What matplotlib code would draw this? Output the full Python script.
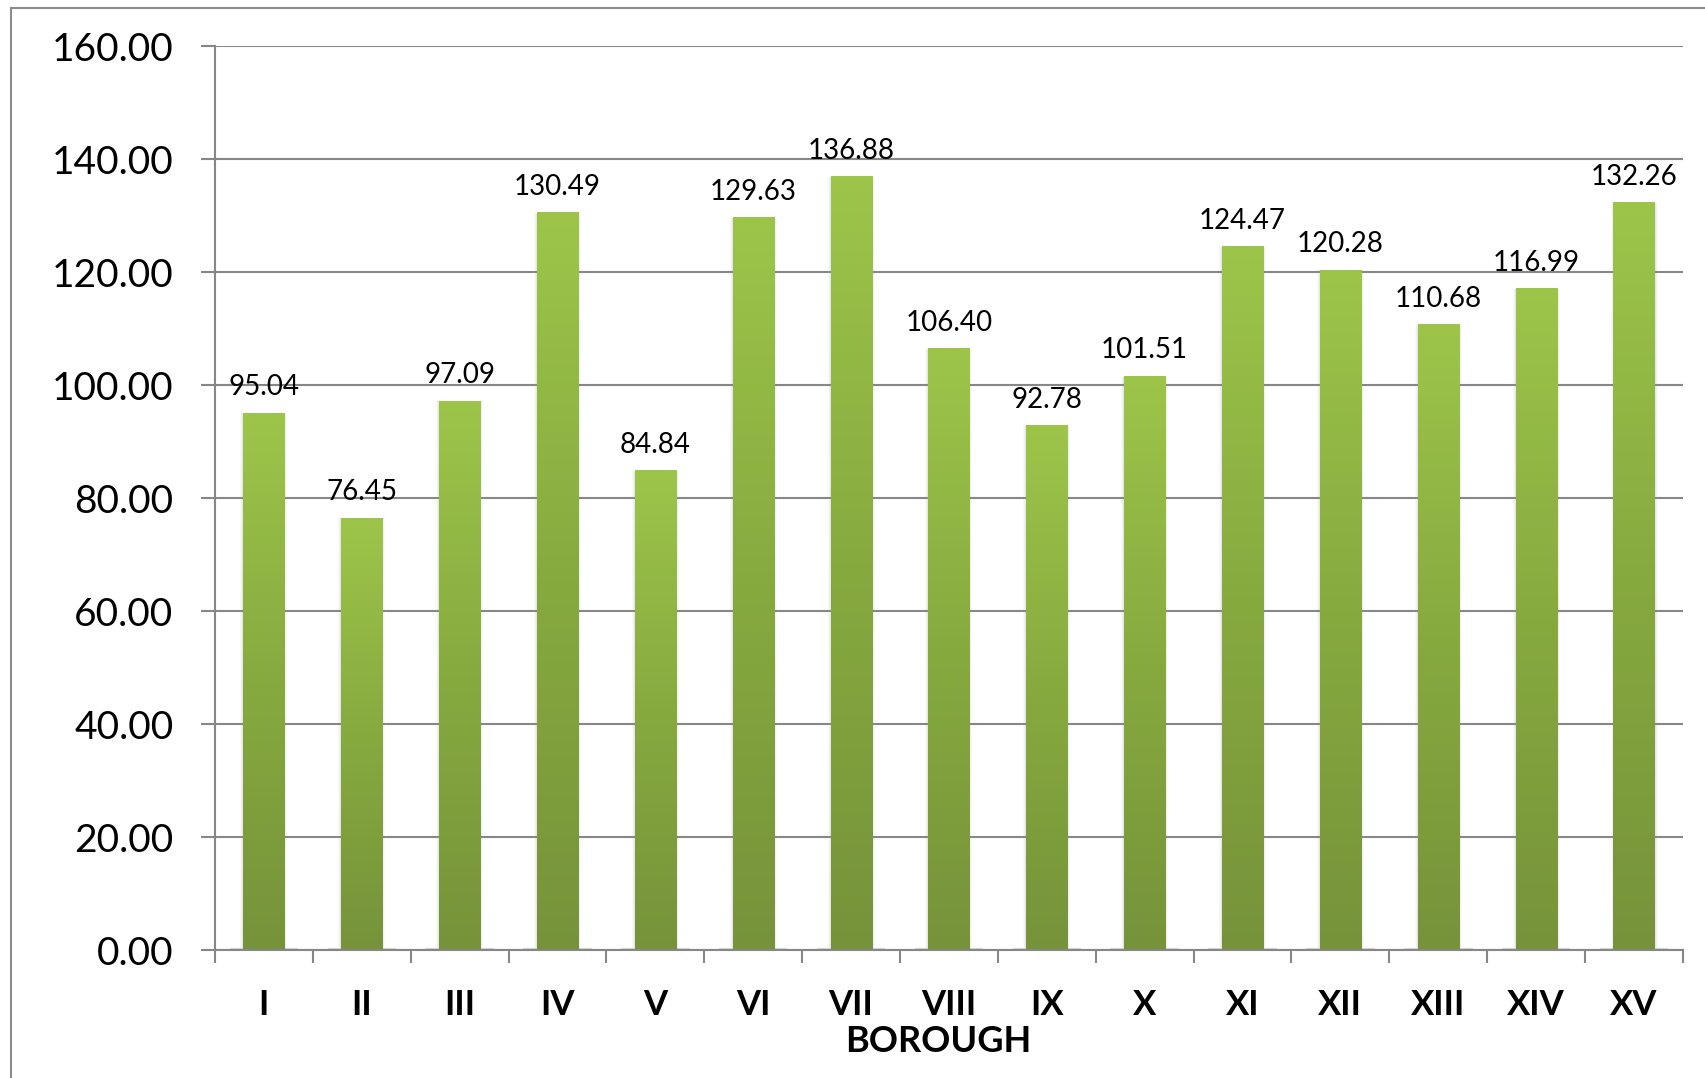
import numpy as np
import matplotlib
matplotlib.use("Agg")
import matplotlib.pyplot as plt
from matplotlib import rcParams
from matplotlib.colors import LinearSegmentedColormap
from matplotlib.lines import Line2D

rcParams['font.family'] = ['Lato', 'DejaVu Sans']

# Borough values
boroughs = ['I', 'II', 'III', 'IV', 'V', 'VI', 'VII', 'VIII', 'IX', 'X',
            'XI', 'XII', 'XIII', 'XIV', 'XV']
values = [95.04, 76.45, 97.09, 130.49, 84.84, 129.63, 136.88, 106.40, 92.78,
          101.51, 124.47, 120.28, 110.68, 116.99, 132.26]
y_ticks = [0, 20, 40, 60, 80, 100, 120, 140, 160]

grid_color = '#878787'
green_grad = LinearSegmentedColormap.from_list('grn', ['#76933a', '#87aa3f', '#9dc54a'])
bar_w = 0.42

fig = plt.figure(figsize=(17.06, 10.78), dpi=100)
ax = fig.add_axes([0.126, 0.1187, 0.8605, 0.8386])

# outer chart frame (only left/top edges fall inside the image)
fig.add_artist(Line2D([0.0065, 0.0065], [0.0, 0.9926], color='#8c8c8c', lw=1.5,
                      transform=fig.transFigure))
fig.add_artist(Line2D([0.0065, 1.0], [0.9926, 0.9926], color='#8c8c8c', lw=1.5,
                      transform=fig.transFigure))

x = np.arange(len(values)) + 0.5
grad = np.linspace(0, 1, 256).reshape(-1, 1)

for xi, v in zip(x, values):
    # soft shadow round each bar
    for k, a in [(0.06, 0.05), (0.04, 0.08), (0.02, 0.12)]:
        ax.bar(xi, v + 0.4, width=bar_w + k, bottom=-0.4, color='#9a9a9a',
               alpha=a, lw=0, zorder=2)
    ax.plot([xi - 0.35, xi + 0.35], [0, 0], color='#d6d6d6', lw=3,
            zorder=2.5, solid_capstyle='butt')
    ax.imshow(grad, cmap=green_grad, origin='lower', aspect='auto',
              extent=(xi - bar_w / 2, xi + bar_w / 2, 0, v), zorder=3,
              interpolation='bilinear')
    ax.annotate(f'{v:.2f}', (xi, v), xytext=(0, 13), textcoords='offset points',
                ha='center', va='baseline', fontsize=20, color='black', zorder=5)

ax.set_xlim(0, len(values))
ax.set_ylim(0, 160)
ax.set_yticks(y_ticks)
ax.set_yticklabels([f'{t:.2f}' for t in y_ticks], fontsize=28)
ax.set_xticks(np.arange(len(values) + 1))
ax.set_xticklabels([])
ax.set_xticks(x, minor=True)
ax.set_xticklabels(boroughs, minor=True, fontsize=25, fontweight='bold')
ax.tick_params(axis='x', which='minor', length=0, pad=28)
ax.tick_params(axis='x', which='major', length=9, width=1.5, color=grid_color)
ax.tick_params(axis='y', length=10, width=1.5, color=grid_color, pad=20)
ax.set_xlabel('BOROUGH', fontsize=26, fontweight='bold')
ax.xaxis.set_label_coords(0.4925, -0.083)

ax.yaxis.grid(True, color=grid_color, lw=1.5, zorder=1)
ax.set_axisbelow(True)
for s in ['top', 'right']:
    ax.spines[s].set_visible(False)
for s in ['left', 'bottom']:
    ax.spines[s].set_color(grid_color)
    ax.spines[s].set_linewidth(1.5)
    ax.spines[s].set_zorder(4)

fig.savefig('out.png', dpi=100)
